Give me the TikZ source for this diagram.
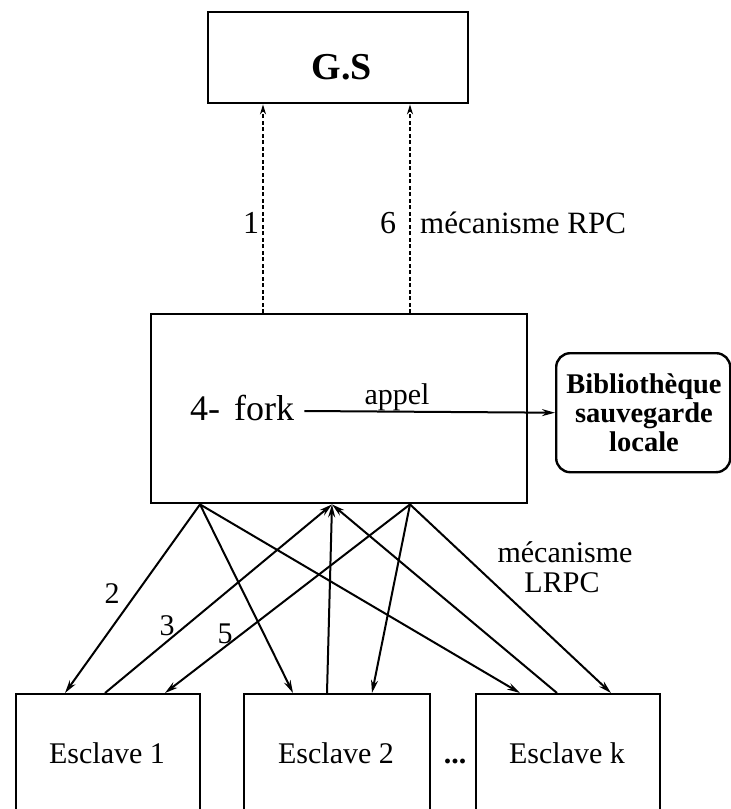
\documentclass[tikz,border=0pt]{standalone}
\usepackage{fontspec}
\setmainfont{Liberation Serif}
\usetikzlibrary{arrows.meta}
\begin{document}
\begin{tikzpicture}[x=1pt,y=-1pt,
  box/.style={draw,line width=2.4pt,inner sep=0pt,anchor=north west},
  txt/.style={inner sep=0pt,anchor=base,font=\fontsize{30}{30}\selectfont},
  conn/.style={line width=2pt,-{Stealth[length=13pt,width=7pt]}},
  rpc/.style={line width=2pt,dash pattern=on 4pt off 2.5pt,-{Stealth[length=10pt,width=6pt]}}
]
\useasboundingbox (0,0) rectangle (731,809);

% boxes
\node[box,minimum width=260pt,minimum height=91pt] (gs) at (207,11) {};
\node[box,minimum width=376pt,minimum height=189pt] (fork) at (150,313) {};
\node[box,rounded corners=14pt,minimum width=174pt,minimum height=119pt] (lib) at (555,352) {};
\node[box,minimum width=184pt,minimum height=130pt] (e1) at (15,693) {};
\node[box,minimum width=186pt,minimum height=130pt] (e2) at (243,693) {};
\node[box,minimum width=184pt,minimum height=130pt] (ek) at (475,693) {};

% texts
\node[txt,font=\bfseries\fontsize{38}{38}\selectfont] (gst) at (342,79) {G.S};
\node[txt,anchor=base west,font=\fontsize{36}{36}\selectfont] (forkt) at (190,420) {4-\hspace{14pt}fork};
\node[txt,font=\fontsize{30}{30}\selectfont] (appel) at (397,404) {appel};
\node[inner sep=0pt,align=center,font=\bfseries\fontsize{28.5}{29}\selectfont] (libt) at (644,413) {Bibliothèque\\sauvegarde\\locale};
\node[txt,anchor=base west,font=\fontsize{32}{32}\selectfont] (l1) at (243,233) {1};
\node[txt,anchor=base west,font=\fontsize{32}{32}\selectfont] (l6) at (380,233) {6};
\node[txt,anchor=base west,font=\fontsize{31}{31}\selectfont] (rpct) at (420,233) {mécanisme RPC};
\node[txt] (lrpc1) at (565,562) {mécanisme};
\node[txt] (lrpc2) at (562,592) {LRPC};
\node[txt] (l2) at (112,603) {2};
\node[txt] (l3) at (167,635) {3};
\node[txt] (l5) at (225,643) {5};
\node[txt] (e1t) at (107,763) {Esclave 1};
\node[txt] (e2t) at (336,763) {Esclave 2};
\node[txt] (ekt) at (567,763) {Esclave k};
\node[txt,font=\bfseries\fontsize{30}{30}\selectfont] (dots) at (455,763) {...};

% attachment points on the box borders
\path (gs.south west) ++(56,0) coordinate (gA) (gs.south west) ++(203,0) coordinate (gB);
\path (fork.north west) ++(113,0) coordinate (uA) (fork.north west) ++(260,0) coordinate (uB);
\path (fork.south west) ++(50,0) coordinate (fA)
      (fork.south west) ++(182,0) coordinate (fB)
      (fork.south west) ++(260,0) coordinate (fC);
\path (e1.north west) ++(50,0) coordinate (e1a) (e1.north west) ++(90,0) coordinate (e1b) (e1.north west) ++(150,0) coordinate (e1c);
\path (e2.north west) ++(50,0) coordinate (e2a) (e2.north west) ++(84,0) coordinate (e2b) (e2.north west) ++(129,0) coordinate (e2c);
\path (ek.north west) ++(45,0) coordinate (eka) (ek.north west) ++(82,0) coordinate (ekb) (ek.north west) ++(136,0) coordinate (ekc);
\path (forkt.base east) ++(10,-9) coordinate (appA);

% RPC calls to the G.S
\draw[rpc] (uA) -- (gA);
\draw[rpc] (uB) -- (gB);

% local call
\draw[conn] (appA) -- (lib.west);

% LRPC exchanges with the slaves
\draw[conn] (fA) -- (e1a);
\draw[conn] (fA) -- (e2a);
\draw[conn] (fA) -- (eka);
\draw[conn] (e1b) -- (fB);
\draw[conn] (e2b) -- (fB);
\draw[conn] (ekb) -- (fB);
\draw[conn] (fC) -- (e1c);
\draw[conn] (fC) -- (e2c);
\draw[conn] (fC) -- (ekc);
\end{tikzpicture}
\end{document}
